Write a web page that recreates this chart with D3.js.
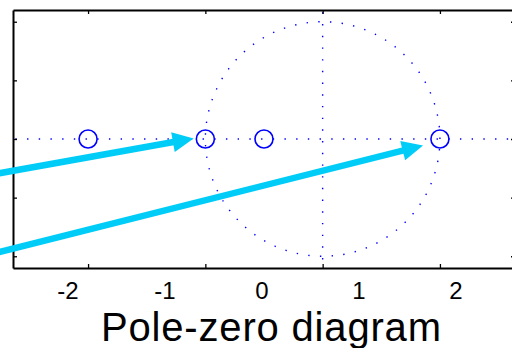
<!DOCTYPE html>
<html>
<head>
<meta charset="utf-8">
<script src="https://cdn.jsdelivr.net/npm/d3@7"></script>
<style>
  html, body { margin: 0; padding: 0; background: #fff; }
  svg { display: block; }
</style>
</head>
<body>
<script>
// ---- data ----
const zerosRe = [-2, -1, -0.5, 1];
const zerosIm = [0, 0, 0, 0];
const xTicks = [-2, -1, 0, 1];
const yTicks = [-1, -0.5, 0, 0.5, 1];
const xLabelValues = [-2, -1, 0, 1, 2];
const xLabelText = ["-2", "-1", "0", "1", "2"];
const arrowStartX = [-2.8, -2.8];
const arrowStartY = [-0.30, -0.975];
const arrowEndX = [-1.10, 0.856];
const arrowEndY = [0.005, -0.055];
const titleText = "Pole-zero diagram";

const W = 512, H = 348;
const svg = d3.select("body").append("svg").attr("width", W).attr("height", H);

const x = d3.scaleLinear().domain([-2.64, 1.64]).range([13, 515]);
const y = d3.scaleLinear().domain([-1.1, 1.1]).range([268, 10]);
const xLab = d3.scaleLinear().domain([-2, 2]).range([68, 456]);

const blue = "#0000ff";
const dot = { w: 1.4, dash: "1.4,10.3" };

// dotted axes lines
svg.append("line")
  .attr("x1", x(-2.62)).attr("x2", x(1.64)).attr("y1", y(0)).attr("y2", y(0))
  .attr("stroke", blue).attr("stroke-width", dot.w).attr("stroke-dasharray", dot.dash);
svg.append("line")
  .attr("x1", x(0)).attr("x2", x(0)).attr("y1", y(1.08)).attr("y2", y(-1.1))
  .attr("stroke", blue).attr("stroke-width", dot.w).attr("stroke-dasharray", dot.dash);

// unit circle
const circPts = d3.range(0, 361, 2).map(a => [Math.cos(a * Math.PI / 180), Math.sin(a * Math.PI / 180)]);
svg.append("path")
  .attr("d", d3.line().x(d => x(d[0])).y(d => y(d[1]))(circPts))
  .attr("fill", "none").attr("stroke", blue).attr("stroke-width", dot.w).attr("stroke-dasharray", dot.dash);

// zeros (o markers)
svg.selectAll("circle.zero").data(zerosRe).join("circle")
  .attr("class", "zero")
  .attr("cx", d => x(d)).attr("cy", (d, i) => y(zerosIm[i]))
  .attr("r", 9).attr("fill", "none").attr("stroke", blue).attr("stroke-width", 1.6);

// axes frame
const axG = svg.append("g");
const styleAxis = g => {
  g.select(".domain").attr("stroke", "#000").attr("stroke-width", 2);
  g.selectAll(".tick line").attr("stroke", "#000").attr("stroke-width", 1.3);
  g.selectAll(".tick text").remove();
};
axG.append("g").attr("transform", `translate(0,${y(-1.1)})`)
  .call(d3.axisBottom(x).tickValues(xTicks).tickSize(-4).tickSizeOuter(0).tickFormat(""))
  .call(styleAxis);
axG.append("g").attr("transform", `translate(0,${y(1.1)})`)
  .call(d3.axisTop(x).tickValues(xTicks).tickSize(-4).tickSizeOuter(0).tickFormat(""))
  .call(styleAxis);
axG.append("g").attr("transform", `translate(${x(-2.64)},0)`)
  .call(d3.axisLeft(y).tickValues(yTicks).tickSize(-4).tickSizeOuter(0).tickFormat(""))
  .call(styleAxis);
axG.append("g").attr("transform", `translate(${x(1.64)},0)`)
  .call(d3.axisRight(y).tickValues(yTicks).tickSize(-4).tickSizeOuter(0).tickFormat(""))
  .call(styleAxis);

// x tick labels
svg.selectAll("text.xl").data(xLabelValues).join("text")
  .attr("class", "xl")
  .attr("x", d => xLab(d)).attr("y", 298.5)
  .attr("text-anchor", "middle")
  .attr("font-family", "Liberation Sans, Arial, Helvetica, sans-serif")
  .attr("font-size", 24).attr("fill", "#000")
  .text((d, i) => xLabelText[i]);

// title
svg.append("text")
  .attr("x", 271).attr("y", 341)
  .attr("text-anchor", "middle")
  .attr("font-family", "Liberation Sans, Arial, Helvetica, sans-serif")
  .attr("font-size", 40).attr("fill", "#000")
  .attr("textLength", 340).attr("lengthAdjust", "spacing")
  .text(titleText);

// arrows
const cyan = "#00cdf7";
const headLen = 21, headHalf = 10;
arrowStartX.forEach((sx, i) => {
  const x0 = x(sx), y0 = y(arrowStartY[i]);
  const x1 = x(arrowEndX[i]), y1 = y(arrowEndY[i]);
  const ang = Math.atan2(y1 - y0, x1 - x0);
  const bx = x1 - headLen * Math.cos(ang), by = y1 - headLen * Math.sin(ang);
  svg.append("line")
    .attr("x1", x0).attr("y1", y0).attr("x2", bx + 2 * Math.cos(ang)).attr("y2", by + 2 * Math.sin(ang))
    .attr("stroke", cyan).attr("stroke-width", 6.5);
  const px = -Math.sin(ang), py = Math.cos(ang);
  svg.append("polygon")
    .attr("points", [
      [x1, y1],
      [bx + headHalf * px, by + headHalf * py],
      [bx - headHalf * px, by - headHalf * py]
    ].map(p => p.join(",")).join(" "))
    .attr("fill", cyan);
});
</script>
</body>
</html>
